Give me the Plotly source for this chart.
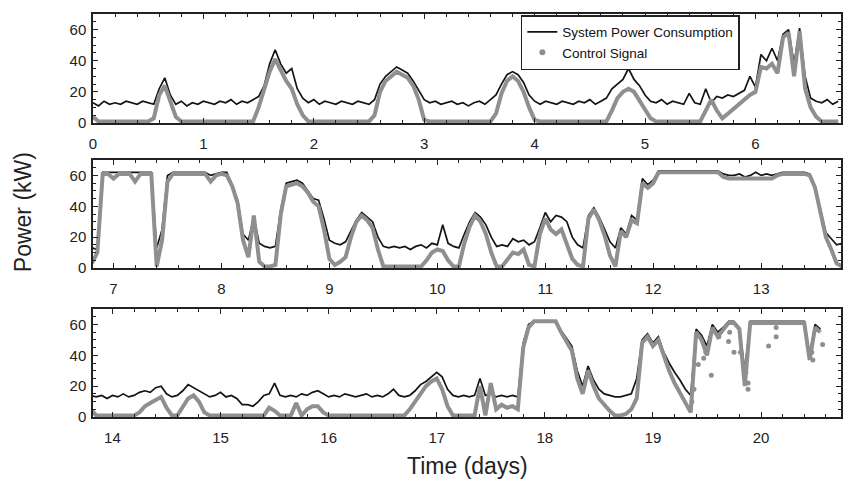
import numpy as np
import plotly.graph_objects as go
from plotly.subplots import make_subplots

# ---------------- data ----------------
STEP = 0.05  # sampling interval of the read-off series (days)

# Panel 1: days 0.00 .. 6.75
t1_start = 0.0
power_1 = [13,11,14,12,13,12,14,13,12,14,13,12,22,29,18,12,14,11,13,12,
           14,13,12,14,13,15,12,14,13,15,17,24,38,47,38,32,35,22,16,13,
           15,12,14,13,12,14,13,12,14,13,12,15,25,30,33,36,34,32,27,21,
           15,13,14,12,13,14,12,13,11,13,14,12,15,18,25,31,33,31,26,18,
           14,12,14,13,12,14,13,12,14,13,15,12,14,16,22,25,28,35,28,24,
           18,14,13,15,12,14,13,12,19,13,12,22,13,17,16,18,17,19,21,30,
           23,44,40,48,40,57,60,38,61,30,16,14,13,15,12,14]
control_1 = [4,1,1,1,1,1,1,1,1,1,1,3,18,24,14,4,1,1,1,1,
             1,1,1,1,1,1,1,1,1,1,10,22,33,41,34,27,22,12,5,1,
             1,1,1,1,1,1,1,1,1,1,1,5,20,27,30,33,31,29,24,15,
             2,1,1,1,1,1,1,1,1,1,1,1,1,6,19,27,30,27,20,10,
             2,1,1,1,1,1,1,1,1,1,1,1,1,1,8,16,20,22,20,14,
             8,3,1,1,1,1,1,1,1,1,1,8,15,8,3,6,9,12,15,18,
             20,36,35,38,32,55,58,30,59,22,10,4,1,1,1,1]

# Panel 2: days 6.80 .. 13.75
t2_start = 6.80
power_2 = [13,12,62,62,
           62,62,62,62,62,62,62,62,13,25,60,62,62,62,62,62,62,62,60,61,
           62,62,54,44,22,18,33,16,14,13,14,38,55,56,57,55,50,45,44,32,
           18,16,15,17,24,31,36,33,30,20,14,13,14,13,14,12,14,15,13,16,
           15,28,16,14,13,22,30,36,33,28,20,14,15,14,19,17,18,15,17,26,
           36,30,34,33,30,20,15,13,34,39,33,25,17,13,26,22,34,31,58,54,
           57,63,63,63,63,63,63,63,63,63,63,63,63,61,60,60,61,59,60,62,
           60,61,60,61,62,62,62,62,62,61,53,38,23,19,15,16]
control_2 = [3,10,61,61,
             58,61,61,61,56,61,61,61,1,18,56,61,61,61,61,61,61,61,56,60,
             61,60,53,42,18,7,34,4,1,1,2,35,53,54,55,53,49,43,40,25,
             6,2,4,7,20,30,34,31,26,12,1,1,1,1,1,1,1,1,5,10,
             12,11,5,1,1,16,27,34,30,22,10,1,1,6,10,9,12,2,1,22,
             32,25,22,25,16,6,2,1,32,38,31,21,8,1,24,20,31,29,55,52,
             55,62,62,62,62,62,62,62,62,62,62,62,62,59,58,58,58,58,58,58,
             58,58,58,60,61,61,61,61,61,60,52,36,20,12,3,1]

# Panel 3: days 13.80 .. 20.55
t3_start = 13.80
power_3 = [14,13,14,12,
           14,13,15,13,14,16,17,16,19,20,15,13,14,17,21,19,17,15,13,14,
           16,13,14,12,8,8,7,10,14,15,22,14,13,14,13,15,14,16,17,15,
           13,14,13,15,14,13,14,15,13,14,13,15,18,14,13,14,17,21,23,26,
           29,26,18,14,13,14,13,14,25,14,15,13,14,13,14,13,48,60,62,62,
           62,62,62,56,51,46,30,20,33,24,18,15,14,13,13,14,15,25,50,54,
           48,52,42,35,29,24,18,14,57,53,46,60,55,58,62,62,58,30,62,62,
           62,62,62,62,62,62,62,62,62,40,60,57]
control_3 = [5,1,1,1,
             1,1,1,1,1,3,7,9,11,13,6,1,1,6,12,14,10,3,1,1,
             1,1,1,1,1,1,1,1,1,6,4,1,1,1,9,1,5,7,7,3,
             1,1,1,1,1,1,1,1,1,1,1,1,1,1,1,5,10,16,20,23,
             25,18,7,1,1,1,1,1,20,1,22,5,8,6,7,5,45,58,62,62,
             62,62,62,55,49,43,25,15,30,20,12,8,4,1,1,2,5,12,48,52,
             46,50,40,30,22,16,10,3,55,50,40,58,52,57,61,61,57,20,61,61,
             61,61,61,61,61,61,61,61,61,37,58,55]

# scattered control-signal samples in the last panel
scatter_t = [19.36, 19.38, 19.42, 19.47, 19.49, 19.54, 19.61, 19.70, 19.71, 19.75,
             19.81, 19.86, 19.88, 19.88, 20.07, 20.14, 20.14, 20.47, 20.48, 20.57]
scatter_v = [10, 18, 34, 38, 42, 27, 52, 49, 55, 42,
             42, 29, 22, 18, 46, 52, 58, 42, 37, 47]

x_ranges = [[0.0, 6.775], [6.81, 13.74], [13.82, 20.74]]

# ---------------- figure ----------------
def grid(start, n):
    return np.round(start + STEP * np.arange(n), 3)

panels = [(t1_start, power_1, control_1),
          (t2_start, power_2, control_2),
          (t3_start, power_3, control_3)]

fig = make_subplots(rows=3, cols=1, vertical_spacing=0.0)

BLACK = "#141414"
GRAY = "#8f8f8f"

for i, (ts, pw, cs) in enumerate(panels, start=1):
    fig.add_trace(go.Scatter(x=grid(ts, len(pw)), y=pw, mode="lines",
                             line=dict(color=BLACK, width=1.7),
                             name="System Power Consumption",
                             showlegend=(i == 1)), row=i, col=1)
    fig.add_trace(go.Scatter(x=grid(ts, len(cs)), y=cs, mode="lines",
                             line=dict(color=GRAY, width=4),
                             name="Control Signal", showlegend=False),
                  row=i, col=1)

fig.add_trace(go.Scatter(x=scatter_t, y=scatter_v, mode="markers",
                         marker=dict(color=GRAY, size=5),
                         showlegend=False), row=3, col=1)
# legend entry for the control signal (dot symbol)
fig.add_trace(go.Scatter(x=[None], y=[None], mode="markers",
                         marker=dict(color=GRAY, size=6),
                         name="Control Signal"), row=1, col=1)

H = 403.0
domains = [[(417 - 123) / H, 1.0], [(417 - 268) / H, (417 - 160) / H], [0.0, (417 - 309) / H]]

tickfont = dict(family="Liberation Sans, Arial, sans-serif", size=15, color="#222")
for i in range(1, 4):
    fig.update_xaxes(range=x_ranges[i - 1], dtick=1, tick0=0, ticks="inside",
                     ticklen=5, tickwidth=1.2, tickcolor="#222",
                     minor=dict(dtick=0.2, tick0=0, ticks="inside", ticklen=3,
                                tickcolor="#222"),
                     showline=True, linecolor="#222", linewidth=1.5, mirror="ticks",
                     showgrid=False, zeroline=False, tickfont=tickfont,
                     ticklabelstandoff=6, row=i, col=1)
    fig.update_yaxes(range=[0, 70], dtick=20, tick0=0, ticks="inside",
                     ticklen=5, tickwidth=1.2, tickcolor="#222",
                     minor=dict(dtick=5, ticks="inside", ticklen=3, tickcolor="#222"),
                     showline=True, linecolor="#222", linewidth=1.5, mirror="ticks",
                     showgrid=False, zeroline=False, tickfont=tickfont,
                     ticklabelstandoff=2, domain=domains[i - 1], row=i, col=1)

fig.update_layout(
    width=845, height=482,
    margin=dict(l=93, r=2, t=14, b=65),
    paper_bgcolor="white", plot_bgcolor="white",
    font=dict(family="Liberation Sans, Arial, sans-serif", color="#222"),
    legend=dict(x=(522 - 93) / 750.0, y=(417 - 15) / H, xanchor="left", yanchor="top",
                bordercolor="#222", borderwidth=1.5, bgcolor="white",
                font=dict(size=13.5, color="#111"), itemwidth=30, tracegroupgap=0),
    annotations=[
        dict(text="Power (kW)", xref="paper", yref="paper",
             x=(23 - 93) / 750.0, y=(417 - 212) / H, textangle=-90,
             showarrow=False, font=dict(size=23, color="#222"),
             xanchor="center", yanchor="middle"),
        dict(text="Time (days)", xref="paper", yref="paper",
             x=0.5, y=(417 - 466) / H, showarrow=False,
             font=dict(size=23, color="#222"), xanchor="center", yanchor="middle"),
    ],
)

fig.write_html("out.html", config={"displayModeBar": False},
               post_script="document.body.style.margin='0px';")
